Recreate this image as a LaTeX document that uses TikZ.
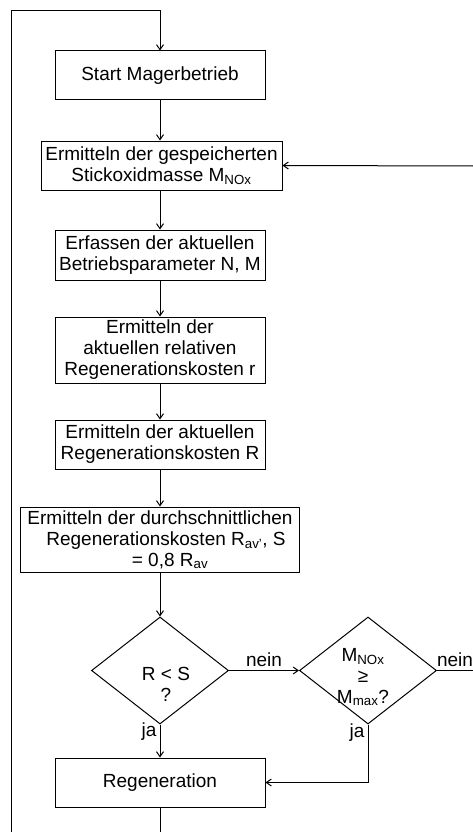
\documentclass[tikz,border=0pt]{standalone}
\usepackage{fontspec}
\setmainfont{Liberation Sans}
\usetikzlibrary{arrows.meta,shapes.geometric}
\begin{document}
\begin{tikzpicture}[x=1pt,y=-1pt,
  line width=1pt,
  txt/.style={font=\fontsize{19}{21}\selectfont,align=center,inner sep=0pt},
  box/.style={draw,txt,minimum height=49pt},
  dia/.style={draw,diamond,inner sep=0pt,minimum width=137pt,minimum height=107pt},
  arr/.style={-{Straight Barb[length=5pt,width=7pt]}},
  lbl/.style={txt}
]
\useasboundingbox (0,0) rectangle (473,832);

\node[box,minimum width=210pt] (b1) at (160,75.5) {Start Magerbetrieb};
\node[box,minimum width=241pt] (b2) at (161.5,165.5) {Ermitteln der gespeicherten\\Stickoxidmasse M\textsubscript{NOx}};
\node[box,minimum width=210pt,minimum height=50pt] (b3) at (160,255) {Erfassen der aktuellen\\Betriebsparameter N, M};
\node[box,minimum width=210pt,minimum height=66pt] (b4) at (160,350) {Ermitteln der\\aktuellen relativen\\Regenerationskosten r};
\node[box,minimum width=210pt] (b5) at (160,444.5) {Ermitteln der aktuellen\\Regenerationskosten R};
\node[box,minimum width=279pt,minimum height=65pt] (b6) at (160,539.5) {Ermitteln der durchschnittlichen\\\hspace*{12pt}Regenerationskosten R\textsubscript{av'}, S\\\hspace*{20pt}= 0,8 R\textsubscript{av}};
\node[dia] (d1) at (160,670.5) {};
\node[dia] (d2) at (368,670.5) {};
\node[box,minimum width=210pt] (rg) at (160,782.5) {Regeneration};

\node[txt] (t1) at (166,684) {R < S\\?};
\node[txt] (t2) at (363,677) {M\textsubscript{NOx}\\≥\\M\textsubscript{max}?};

\coordinate (tl) at (11,11);
\coordinate (bl) at (11,832);
\coordinate (re) at (473,166);
\coordinate (nr) at (473,670.5);
\coordinate (rb) at (160,832);
\coordinate (ct) at (d2.south |- rg.east);

\draw[arr] (bl) -- (tl) -| (b1.north);
\draw[arr] (b1.south) -- (b1.south |- b2.north);
\draw[arr] (b1.south |- b2.south) -- (b3.north);
\draw[arr] (b3.south) -- (b4.north);
\draw[arr] (b4.south) -- (b5.north);
\draw[arr] (b5.south) -- (b6.north);
\draw[arr] (b6.south) -- (d1.north);
\draw[arr] (d1.east) -- node[lbl,above=3pt] (n1) {nein} (d2.west);
\draw (d2.east) -- node[lbl,above=3pt] (n2) {nein} (nr);
\draw[arr] (re) -- (b2.east);
\draw[arr] (d1.south) -- node[lbl,pos=0.2,left=3pt] (j1) {ja} (rg.north);
\draw[arr] (d2.south) -- node[lbl,pos=0.14,left=3pt] (j2) {ja} (ct) -- (rg.east);
\draw (rg.south) -- (rb);
\end{tikzpicture}
\end{document}
